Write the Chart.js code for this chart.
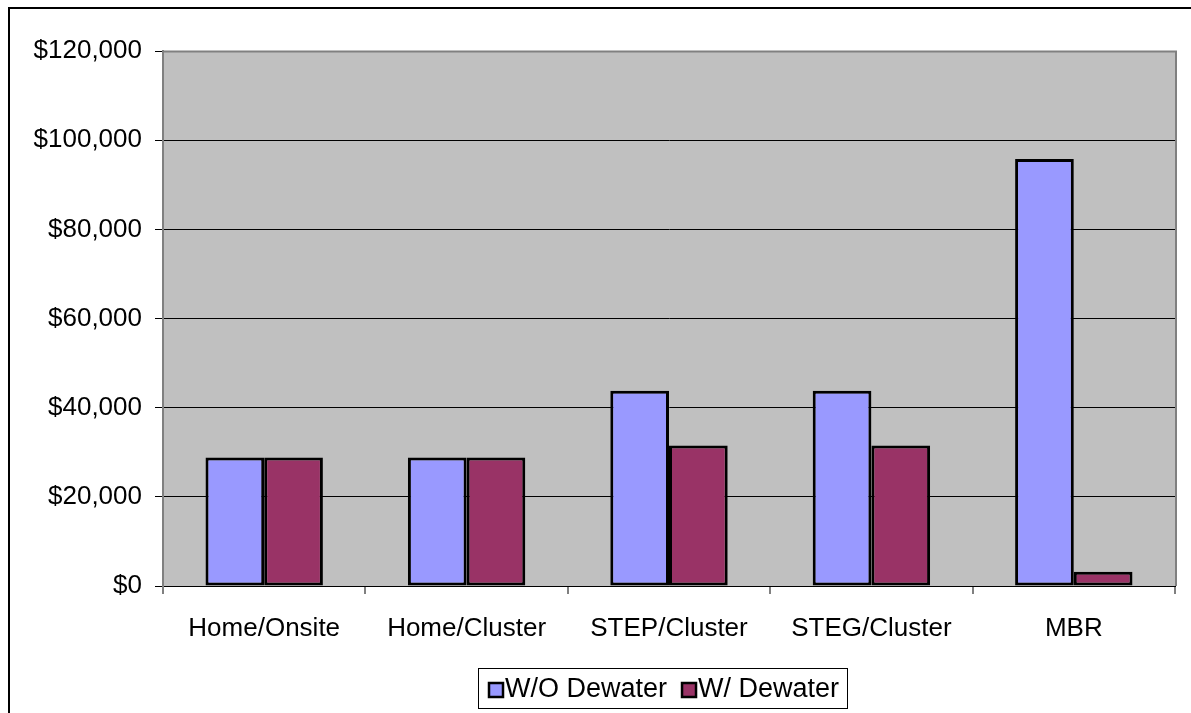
<!DOCTYPE html>
<html>
<head>
<meta charset="utf-8">
<script src="https://cdn.jsdelivr.net/npm/chart.js@4.4.1/dist/chart.umd.min.js"></script>
<style>
  html, body { margin: 0; padding: 0; background: #ffffff; }
  #wrap { width: 1191px; height: 713px; position: relative; }
</style>
</head>
<body>
<div id="wrap"><canvas id="c" width="1191" height="713"></canvas></div>
<script>
const categories = ["Home/Onsite", "Home/Cluster", "STEP/Cluster", "STEG/Cluster", "MBR"];
const seriesNames = ["W/O Dewater", "W/ Dewater"];
const woDewater = [28800, 28800, 43800, 43800, 95800];
const wDewater = [28800, 28800, 31500, 31500, 3200];
const yTicks = [0, 20000, 40000, 60000, 80000, 100000, 120000];
const colors = ["#9999FF", "#993366"];

const FONT = "'Liberation Sans', Arial, sans-serif";

const framePlugin = {
  id: 'frame',
  beforeDraw(chart) {
    const ctx = chart.ctx;
    const a = chart.chartArea;
    ctx.save();
    ctx.fillStyle = '#ffffff';
    ctx.fillRect(0, 0, chart.width, chart.height);
    ctx.strokeStyle = '#000000';
    ctx.lineWidth = 2;
    ctx.strokeRect(9, 8, chart.width + 20, chart.height + 20);
    ctx.fillStyle = '#C0C0C0';
    ctx.fillRect(a.left, a.top, a.right - a.left, a.bottom - a.top);
    ctx.restore();
  },
  afterDatasetsDraw(chart) {
    const ctx = chart.ctx;
    const a = chart.chartArea;
    ctx.save();
    ctx.strokeStyle = '#808080';
    ctx.lineWidth = 2;
    ctx.beginPath();
    ctx.moveTo(a.left, a.top + 0.5);
    ctx.lineTo(a.right + 1, a.top + 0.5);
    ctx.lineTo(a.right + 1, a.bottom);
    ctx.stroke();
    ctx.restore();
  },
  afterDraw(chart) {
    const ctx = chart.ctx;
    ctx.save();
    // legend box
    const bx = 478, by = 668, bw = 369, bh = 40;
    ctx.fillStyle = '#ffffff';
    ctx.fillRect(bx, by, bw, bh);
    ctx.strokeStyle = '#000000';
    ctx.lineWidth = 1;
    ctx.strokeRect(bx + 0.5, by + 0.5, bw, bh);
    ctx.font = '27px ' + FONT;
    ctx.textBaseline = 'middle';
    ctx.textAlign = 'left';
    let x = 489;
    const cy = 690;
    chart.data.datasets.forEach((ds, i) => {
      ctx.fillStyle = ds.backgroundColor;
      ctx.fillRect(x, cy - 7, 14, 14);
      ctx.lineWidth = 2.5;
      ctx.strokeStyle = '#000000';
      ctx.strokeRect(x, cy - 7, 14, 14);
      ctx.fillStyle = '#000000';
      ctx.fillText(ds.label, x + 16, cy);
      x += 16 + ctx.measureText(ds.label).width + 15;
    });
    ctx.restore();
  }
};

new Chart(document.getElementById('c'), {
  type: 'bar',
  data: {
    labels: categories,
    datasets: [
      { label: seriesNames[0], data: woDewater, backgroundColor: colors[0], borderColor: '#000000', borderWidth: 3, borderSkipped: false },
      { label: seriesNames[1], data: wDewater, backgroundColor: colors[1], borderColor: '#000000', borderWidth: 3, borderSkipped: false }
    ]
  },
  options: {
    responsive: false,
    animation: false,
    devicePixelRatio: 1,
    layout: { padding: { left: 0, top: 51, right: 16, bottom: 0 } },
    datasets: { bar: { barPercentage: 1.0, categoryPercentage: 0.58 } },
    plugins: { legend: { display: false }, tooltip: { enabled: false } },
    scales: {
      x: {
        grid: { display: true, drawOnChartArea: false, drawTicks: true, tickLength: 8, color: '#808080', lineWidth: 2, offset: true },
        border: { display: true, color: '#000000', width: 1 },
        ticks: { color: '#000000', font: { family: FONT, size: 26 }, padding: 19, maxRotation: 0 },
        afterFit(scale) { scale.height = 127; }
      },
      y: {
        min: 0, max: 120000,
        afterBuildTicks(scale) { scale.ticks = yTicks.map(v => ({ value: v })); },
        grid: { color: '#000000', lineWidth: 1, tickLength: 8, drawTicks: true },
        border: { display: true, color: '#808080', width: 2 },
        ticks: {
          color: '#000000', font: { family: FONT, size: 26 }, padding: 13,
          callback: v => '$' + Number(v).toLocaleString('en-US')
        },
        afterFit(scale) { scale.width = 163; }
      }
    }
  },
  plugins: [framePlugin]
});
</script>
</body>
</html>
